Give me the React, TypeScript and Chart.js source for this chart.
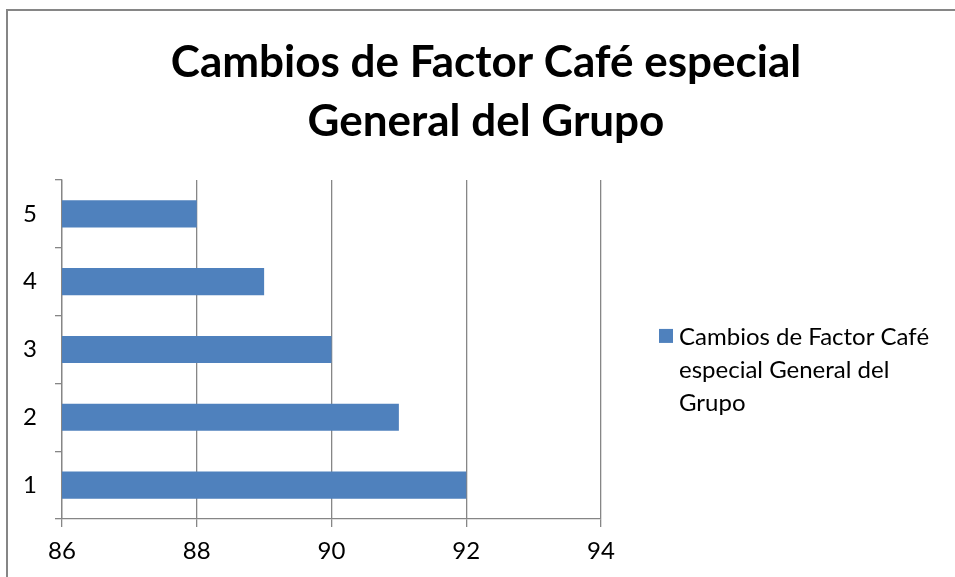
import React, { useEffect, useRef } from 'react';
import { Chart, registerables } from 'chart.js';

Chart.register(...registerables);

const categories = ['1', '2', '3', '4', '5'];
const values = [92, 91, 90, 89, 88];
const seriesLabel = 'Cambios de Factor Café especial General del Grupo';
const titleLines = ['Cambios de Factor Café especial', 'General del Grupo'];
const xMin = 86;
const xMax = 94;
const xStep = 2;

const FONT = 'Lato, "Open Sans", sans-serif';
const GRID = '#868686';
const BAR = '#4F81BD';

function wrapText(ctx: CanvasRenderingContext2D, text: string, maxW: number): string[] {
  const words = text.split(' ');
  const lines: string[] = [];
  let cur = '';
  for (const w of words) {
    const test = cur ? cur + ' ' + w : w;
    if (ctx.measureText(test).width > maxW && cur) {
      lines.push(cur);
      cur = w;
    } else {
      cur = test;
    }
  }
  if (cur) lines.push(cur);
  return lines;
}

const framePlugin = {
  id: 'frame',
  beforeDraw(chart: any) {
    const c = chart.ctx;
    c.save();
    c.fillStyle = '#ffffff';
    c.fillRect(0, 0, chart.width, chart.height);
    c.fillStyle = GRID;
    c.fillRect(6, 9, chart.width - 6, 2);
    c.fillRect(6, 9, 2, chart.height - 9);
    c.restore();
  },
};

const sideLegendPlugin = {
  id: 'sideLegend',
  afterDraw(chart: any) {
    const { ctx, chartArea } = chart;
    const ds = chart.data.datasets[0];
    ctx.save();
    ctx.font = `24px ${FONT}`;
    const lines = wrapText(ctx, ds.label, 268);
    const x0 = chartArea.right + 58;
    const y0 = chartArea.top + 157;
    const lh = 33;
    ctx.fillStyle = ds.backgroundColor;
    ctx.fillRect(x0, y0 - 8, 14, 14);
    ctx.fillStyle = '#000000';
    ctx.textBaseline = 'middle';
    ctx.textAlign = 'left';
    lines.forEach((l: string, i: number) => ctx.fillText(l, x0 + 20, y0 + i * lh));
    ctx.restore();
  },
};

export default function App() {
  const ref = useRef<HTMLCanvasElement>(null);

  useEffect(() => {
    if (!ref.current) return;
    const chart = new Chart(ref.current, {
      type: 'bar',
      data: {
        labels: categories,
        datasets: [
          {
            label: seriesLabel,
            data: values,
            backgroundColor: BAR,
            borderWidth: 0,
            barPercentage: 0.4,
            categoryPercentage: 1,
            yAxisID: 'y',
          },
        ],
      },
      options: {
        indexAxis: 'y',
        responsive: false,
        animation: false,
        layout: { padding: { top: 4, left: 17, right: 0, bottom: 0 } },
        plugins: {
          legend: { display: false },
          tooltip: { enabled: false },
          title: {
            display: true,
            text: titleLines,
            color: '#000000',
            font: { family: FONT, size: 44, weight: 'bold', lineHeight: 1.34 },
            padding: { top: 29, bottom: 29 },
          },
        },
        scales: {
          x: {
            type: 'linear',
            min: xMin,
            max: xMax,
            ticks: {
              stepSize: xStep,
              color: '#000000',
              font: { family: FONT, size: 24 },
              padding: 10,
            },
            grid: { color: GRID, tickLength: 8, lineWidth: 1.3 },
            border: { display: true, color: GRID, width: 1.3 },
            afterFit: (s: any) => {
              s.height = 58;
            },
          },
          y: {
            type: 'category',
            reverse: true,
            position: 'left',
            ticks: {
              color: '#000000',
              font: { family: FONT, size: 24 },
              padding: 18,
            },
            grid: { drawOnChartArea: false, drawTicks: true, tickLength: 7, color: GRID, lineWidth: 1.3 },
            border: { display: true, color: GRID, width: 1.3 },
            afterFit: (s: any) => {
              s.width = 45;
            },
          },
          yR: {
            type: 'category',
            position: 'right',
            display: true,
            labels: categories,
            grid: { display: false, drawTicks: false },
            ticks: { display: false },
            border: { display: false },
            afterFit: (s: any) => {
              s.width = 354;
            },
          },
        },
      },
      plugins: [framePlugin, sideLegendPlugin],
    } as any);
    return () => chart.destroy();
  }, []);

  return (
    <canvas
      ref={ref}
      width={955}
      height={577}
      style={{ position: 'fixed', left: 0, top: 0, width: 955, height: 577 }}
    />
  );
}
